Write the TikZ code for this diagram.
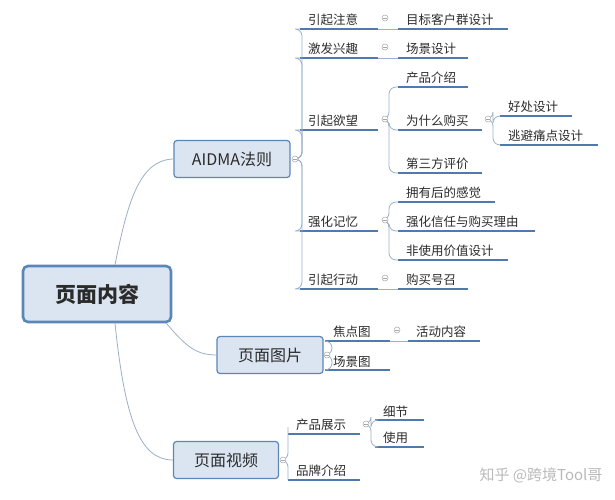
\documentclass[tikz,border=0pt]{standalone}
\usepackage{fontspec}
\setmainfont{Noto Sans CJK SC}
\definecolor{boxfill}{HTML}{DBE5F1}
\definecolor{boxline}{HTML}{5B86B8}
\definecolor{uline}{HTML}{4F7AAE}
\definecolor{txt}{HTML}{2B2B2B}
\definecolor{conn}{HTML}{9AAFC8}
\tikzset{
  topic/.style={draw=boxline, fill=boxfill, rounded corners=3pt, line width=1.2pt, text=txt, font=\fontsize{16}{17}\selectfont, inner sep=0pt},
  leaftext/.style={anchor=south west, inner sep=0pt, inner xsep=8pt, inner ysep=3pt, outer sep=0pt, text=txt, font=\fontsize{12.5}{13}\selectfont, align=left},
  ul/.style={draw=uline, line width=1.6pt},
  conn/.style={draw=conn, line width=0.8pt},
  br/.style={draw=conn, line width=0.8pt, rounded corners=7pt},
  fold/.style={circle, draw=gray!70, line width=0.5pt, minimum size=6pt, inner sep=0pt, fill=white,
    path picture={\draw[gray!70,line width=0.5pt] ([xshift=-1.6pt]path picture bounding box.center) -- ([xshift=1.6pt]path picture bounding box.center);}},
}
% \leaf{name}{x0}{x1}{y}{text}
\newcommand{\leaf}[5]{%
  \node[leaftext, minimum width=#3-#2, text width=#3-#2-16] (#1) at (#2,#4) {#5};
  \draw[ul] (#1.south west) -- (#1.south east);}
\begin{document}
\begin{tikzpicture}[x=1pt,y=-1pt]
\useasboundingbox (0,0) rectangle (615,500);
% main topics
\node[topic, line width=2.6pt, rounded corners=5pt, minimum width=148pt, minimum height=56pt, font=\fontsize{21}{22}\selectfont\bfseries] (root) at (97,294) {页面内容};
\node[topic, minimum width=116pt, minimum height=37pt] (aidma) at (232,159) {AIDMA法则};
\node[topic, minimum width=106pt, minimum height=37pt] (pic) at (270,355) {页面图片};
\node[topic, minimum width=105pt, minimum height=37pt] (vid) at (226,460) {页面视频};
\draw[conn] (root.north) ++(18,0) coordinate (r1) .. controls (128,200) and (140,160) .. (aidma.west);
\draw[conn] (root.south east) ++(-6,0) coordinate (r2) .. controls (185,345) and (195,355) .. (pic.west);
\draw[conn] (root.south) ++(18,0) coordinate (r3) .. controls (125,420) and (140,460) .. (vid.west);
% AIDMA level
\leaf{a1}{300}{378}{29}{引起注意}
\leaf{a2}{300}{378}{58}{激发兴趣}
\leaf{a3}{300}{378}{130}{引起欲望}
\leaf{a4}{300}{378}{231}{强化记忆}
\leaf{a5}{300}{378}{289}{引起行动}
\coordinate (fa) at (295,159);
\foreach \n in {a1,a2,a3,a4,a5}{\draw[br] (fa) -- ++(7,0) |- (\n.south west);}
\leaf{b1}{398}{508}{29}{目标客户群设计}
\leaf{b2}{398}{468}{58}{场景设计}
\leaf{b3}{398}{468}{87}{产品介绍}
\leaf{b4}{398}{482}{130}{为什么购买}
\leaf{b5}{398}{482}{173}{第三方评价}
\leaf{b6}{398}{495}{202}{拥有后的感觉}
\leaf{b7}{398}{535}{231}{强化信任与购买理由}
\leaf{b8}{398}{508}{260}{非使用价值设计}
\leaf{b9}{398}{468}{289}{购买号召}
\draw[conn] (a1.south east) -- (b1.south west);
\draw[conn] (a2.south east) -- (b2.south west);
\draw[conn] (a5.south east) -- (b9.south west);
\coordinate (fa3) at (385,119);
\coordinate (fa4) at (385,220);
\foreach \n in {b3,b4,b5}{\draw[br] (fa3) -- ++(4,0) |- (\n.south west);}
\foreach \n in {b6,b7,b8}{\draw[br] (fa4) -- ++(4,0) |- (\n.south west);}
\coordinate (fb4) at (488,119);
\leaf{c1}{500}{572}{116}{好处设计}
\leaf{c2}{500}{598}{145}{逃避痛点设计}
\foreach \n in {c1,c2}{\draw[br] (fb4) -- ++(5,0) |- (\n.south west);}
% picture branch
\leaf{p1}{325}{390}{341}{焦点图}
\leaf{p2}{325}{390}{370}{场景图}
\coordinate (fp) at (327,355);
\foreach \n in {p1,p2}{\draw[br] (fp) -- ++(5,0) |- (\n.south west);}
\leaf{p3}{408}{480}{341}{活动内容}
\draw[conn] (p1.south east) -- (p3.south west);
% video branch
\leaf{v1}{288}{360}{434}{产品展示}
\leaf{v2}{288}{360}{480}{品牌介绍}
\coordinate (fv) at (283,460);
\foreach \n in {v1,v2}{\draw[br] (fv) -- ++(5,0) |- (\n.south west);}
\coordinate (fv1) at (366,424);
\leaf{v3}{375}{424}{420}{细节}
\leaf{v4}{375}{424}{447}{使用}
\foreach \n in {v3,v4}{\draw[br] (fv1) -- ++(5,0) |- (\n.south west);}
% fold markers
\foreach \p in {fa,fp,fv,fa3,fa4,fb4,fv1}{\node[fold] at (\p) {};}
\node[fold] at (385,18) {};
\node[fold] at (385,47) {};
\node[fold] at (385,278) {};
\node[fold] at (397,330) {};
% watermark
\node[text=gray!55, font=\fontsize{15}{16}\selectfont, anchor=east] (wm) at (606,475) {知乎 @跨境Tool哥};
\end{tikzpicture}
\end{document}
